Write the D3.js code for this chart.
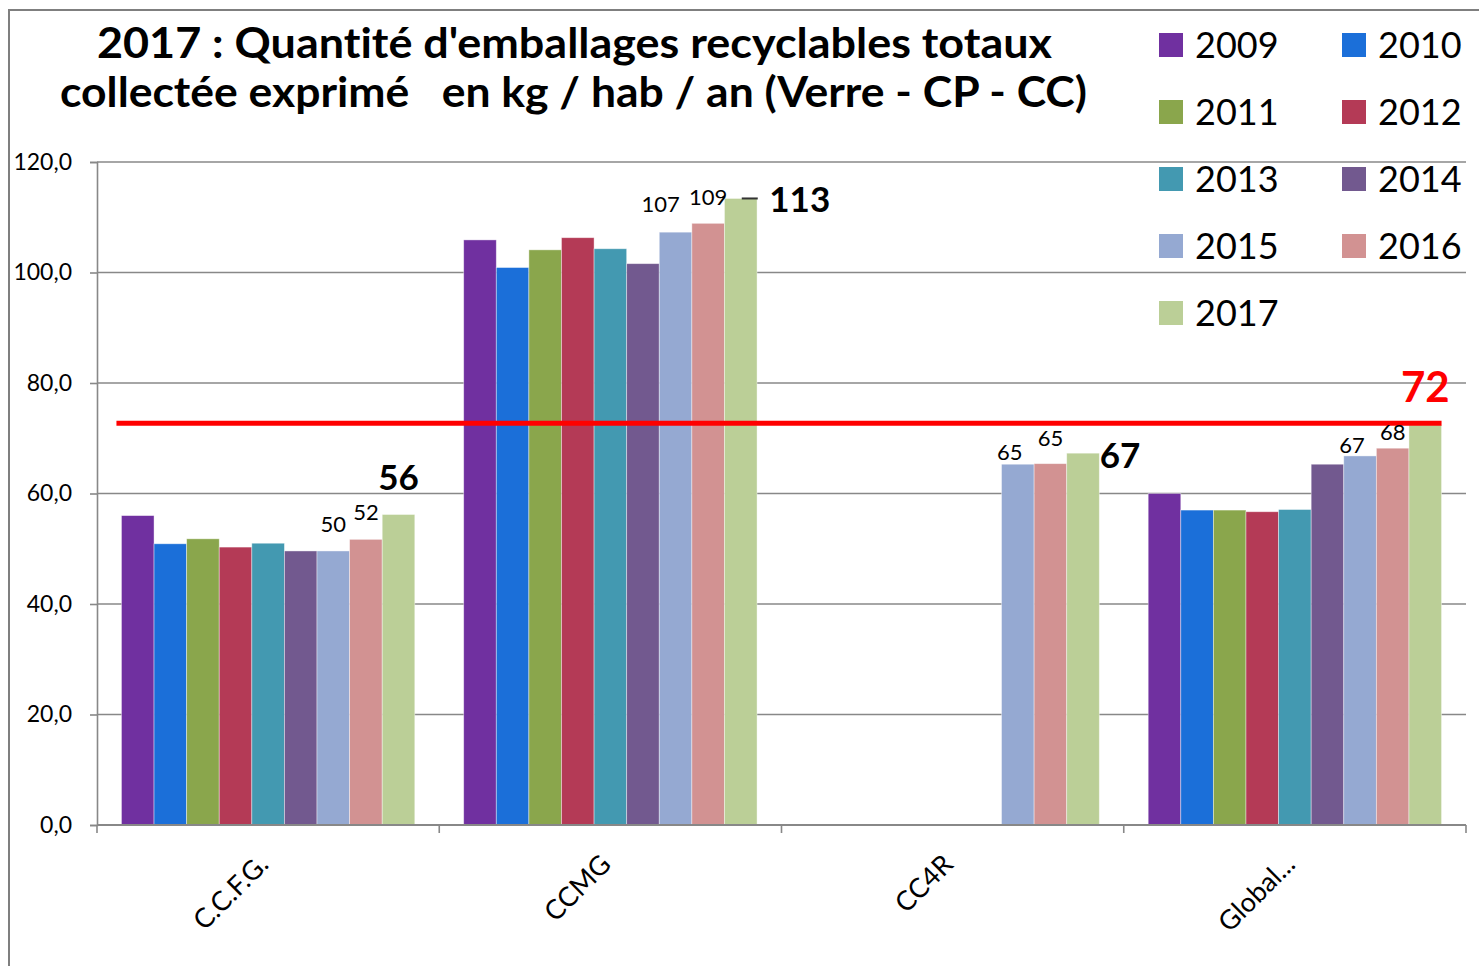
<!DOCTYPE html>
<html>
<head>
<meta charset="utf-8">
<script src="https://cdn.jsdelivr.net/npm/d3@7"></script>
<style>
  body { margin: 0; background: #fff; }
  svg { display: block; font-family: Lato, "Open Sans", sans-serif; font-variant-ligatures: none; font-feature-settings: "liga" 0; }
</style>
</head>
<body>
<script>
// data
var categories = ["C.C.F.G.", "CCMG", "CC4R", "Global..."];
var years = ["2009", "2010", "2011", "2012", "2013", "2014", "2015", "2016", "2017"];
var colors = ["#7030a0", "#1b6fd9", "#8aa64c", "#b43a56", "#4399b1", "#72598f", "#95a9d2", "#d29292", "#bbcf97"];
var ccfg = [56.0, 50.9, 51.8, 50.3, 51.0, 49.6, 49.6, 51.7, 56.2];
var ccmg = [105.9, 100.9, 104.1, 106.3, 104.3, 101.6, 107.3, 108.9, 113.4];
var cc4r = [null, null, null, null, null, null, 65.3, 65.4, 67.3];
var global = [60.0, 57.0, 57.0, 56.7, 57.1, 65.3, 66.8, 68.2, 72.4];
var yTicks = [0, 20, 40, 60, 80, 100, 120];
var target = 72.7;
var labelledYears = ["2015", "2016", "2017"];

var series = [ccfg, ccmg, cc4r, global];

var width = 1479, height = 966;
var svg = d3.select("body").append("svg")
    .attr("width", width)
    .attr("height", height);

// outer frame (top + left only visible)
svg.append("path")
    .attr("d", "M9," + height + "V10H" + width)
    .attr("fill", "none")
    .attr("stroke", "#7f7f7f")
    .attr("stroke-width", 2);

var x = d3.scaleBand().domain(categories).range([97, 1466]).padding(0);
var xi = d3.scaleBand().domain(years).range([0, x.bandwidth()]).paddingInner(0).paddingOuter(0.75);
var y = d3.scaleLinear().domain([0, 120]).range([825, 162]);

// gridlines
svg.append("g").selectAll("line")
    .data(yTicks.slice(1))
    .enter().append("line")
    .attr("x1", 97).attr("x2", 1466)
    .attr("y1", d => y(d)).attr("y2", d => y(d))
    .attr("stroke", "#888")
    .attr("stroke-width", 1.6);

// y axis
var yAxis = svg.append("g")
    .attr("transform", "translate(97,0)")
    .call(d3.axisLeft(y).tickValues(yTicks).tickSize(7).tickPadding(18)
        .tickFormat(d => d3.format(".1f")(d).replace(".", ",")));
yAxis.select(".domain").attr("stroke", "#888").attr("stroke-width", 1.6);
yAxis.selectAll(".tick line").attr("stroke", "#888").attr("stroke-width", 1.6);
yAxis.selectAll("text")
    .attr("font-family", "Lato, sans-serif")
    .attr("font-size", 23)
    .attr("fill", "#000");

// bars
var rows = [];
categories.forEach((c, ci) => {
    years.forEach((yr, yi) => {
        rows.push({ cat: c, year: yr, value: series[ci][yi], color: colors[yi] });
    });
});

svg.append("g").selectAll("rect")
    .data(rows.filter(d => d.value != null))
    .enter().append("rect")
    .attr("x", d => x(d.cat) + xi(d.year))
    .attr("width", xi.bandwidth())
    .attr("y", d => y(d.value))
    .attr("height", d => y(0) - y(d.value))
    .attr("fill", d => d.color)
    .attr("stroke", "#fff")
    .attr("stroke-opacity", 0.5)
    .attr("stroke-width", 0.8);

// x axis
svg.append("line")
    .attr("x1", 97).attr("x2", 1466)
    .attr("y1", y(0)).attr("y2", y(0))
    .attr("stroke", "#888").attr("stroke-width", 2);
var edges = categories.map(c => x(c)).concat([x.range()[1]]);
svg.append("g").selectAll("line")
    .data(edges)
    .enter().append("line")
    .attr("x1", d => d).attr("x2", d => d)
    .attr("y1", y(0)).attr("y2", y(0) + 8)
    .attr("stroke", "#888").attr("stroke-width", 1.6);

svg.append("g").selectAll("text")
    .data(categories)
    .enter().append("text")
    .attr("transform", d => "translate(" + (x(d) + x.bandwidth() / 2 + 2) + "," + 866 + ") rotate(-45)")
    .attr("text-anchor", "end")
    .attr("font-size", 27)
    .attr("fill", "#000")
    .text(d => d);

// target line
var lastCat = categories[categories.length - 1];
svg.append("line")
    .attr("x1", x(categories[0]) + xi(years[0]) - 5)
    .attr("x2", x(lastCat) + xi(years[years.length - 1]) + xi.bandwidth())
    .attr("y1", y(target)).attr("y2", y(target))
    .attr("stroke", "#ff0000")
    .attr("stroke-width", 5);

// data labels (manual nudges as in the original sheet)
var nudge = {
    "C.C.F.G.": [[0, -19], [0, -19], [0, -24]],
    "CCMG": [[-15, -20], [0, -18], [59, 14]],
    "CC4R": [[-8, -4], [0, -18], [37, 15]],
    "Global...": [[-8, -3], [0, -8], null]
};
var labels = rows.filter(d => d.value != null && labelledYears.indexOf(d.year) >= 0 && nudge[d.cat][labelledYears.indexOf(d.year)]);
svg.append("g").selectAll("text")
    .data(labels)
    .enter().append("text")
    .attr("x", d => x(d.cat) + xi(d.year) + xi.bandwidth() / 2 + nudge[d.cat][labelledYears.indexOf(d.year)][0])
    .attr("y", d => y(d.value) + nudge[d.cat][labelledYears.indexOf(d.year)][1])
    .attr("text-anchor", "middle")
    .attr("font-size", d => d.year === "2017" ? 35 : 22)
    .attr("font-weight", d => d.year === "2017" ? "bold" : "normal")
    .attr("fill", "#000")
    .text(d => Math.round(d.value));

// leader for the CCMG 2017 label
var lx = x("CCMG") + xi("2017") + xi.bandwidth() / 2;
svg.append("line")
    .attr("x1", lx + 1).attr("x2", lx + 17)
    .attr("y1", y(ccmg[8])).attr("y2", y(ccmg[8]))
    .attr("stroke", "#333").attr("stroke-width", 2);

// global 2017 label in red
svg.append("text")
    .attr("x", x(lastCat) + xi("2017") + xi.bandwidth() / 2)
    .attr("y", y(global[8]) - 23)
    .attr("text-anchor", "middle")
    .attr("font-size", 42)
    .attr("font-weight", "bold")
    .attr("fill", "#ff0000")
    .text(Math.round(global[8]));

// title
var title = svg.append("g").attr("font-weight", "bold").attr("font-size", 42).attr("fill", "#000");
title.append("text").attr("x", 97).attr("y", 58)
    .attr("textLength", 955).attr("lengthAdjust", "spacingAndGlyphs")
    .text("2017 : Quantité d'emballages recyclables totaux");
title.append("text").attr("x", 60).attr("y", 107)
    .attr("textLength", 1027).attr("lengthAdjust", "spacingAndGlyphs")
    .attr("xml:space", "preserve")
    .text("collectée exprimé   en kg / hab / an (Verre - CP - CC)");

// legend
var legend = svg.append("g").selectAll("g")
    .data(years)
    .enter().append("g")
    .attr("transform", (d, i) => "translate(" + (1159 + (i % 2) * 183) + "," + (45 + Math.floor(i / 2) * 67) + ")");
legend.append("rect")
    .attr("x", 0).attr("y", -12)
    .attr("width", 24).attr("height", 24)
    .attr("fill", (d, i) => colors[i]);
legend.append("text")
    .attr("x", 36).attr("y", 13)
    .attr("font-size", 36)
    .attr("fill", "#000")
    .text(d => d);
</script>
</body>
</html>
